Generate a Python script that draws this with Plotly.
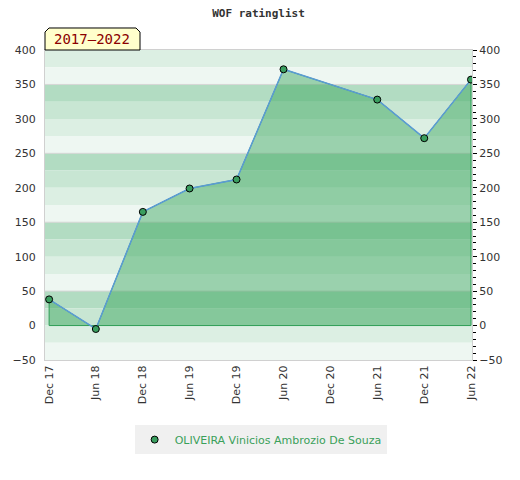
import plotly.graph_objects as go

# ---- data ----
dates = ["2017-12-01", "2018-06-01", "2018-12-01", "2019-06-01", "2019-12-01",
         "2020-06-01", "2021-06-01", "2021-12-01", "2022-06-01"]
ratings = [38, -5, 165, 199, 212, 372, 328, 272, 357]
tick_dates = ["2017-12-01", "2018-06-01", "2018-12-01", "2019-06-01", "2019-12-01",
              "2020-06-01", "2020-12-01", "2021-06-01", "2021-12-01", "2022-06-01"]
tick_labels = ["Dec 17", "Jun 18", "Dec 18", "Jun 19", "Dec 19",
               "Jun 20", "Dec 20", "Jun 21", "Dec 21", "Jun 22"]
player = "OLIVEIRA Vinicios Ambrozio De Souza"
period = "2017–2022"
title = "WOF ratinglist"
y_min, y_max = -50, 400

fig = go.Figure()

# fill polygon: data points closed down to zero
poly_x = dates + [dates[-1], dates[0], dates[0]]
poly_y = ratings + [0, 0, ratings[0]]
fig.add_trace(go.Scatter(x=poly_x, y=poly_y, mode="lines", fill="toself",
                         fillcolor="rgba(43,160,82,0.43)",
                         line=dict(color="#2f9e55", width=1),
                         hoverinfo="skip", showlegend=False))
fig.add_trace(go.Scatter(x=dates, y=ratings, mode="lines",
                         line=dict(color="#5b9bd5", width=1.5),
                         hoverinfo="skip", showlegend=False))
fig.add_trace(go.Scatter(x=dates, y=ratings, mode="markers", name=player,
                         marker=dict(size=7, color="#3a9e5f",
                                     line=dict(color="#000000", width=1))))
# invisible trace for right axis
fig.add_trace(go.Scatter(x=[dates[0]], y=[0], yaxis="y2", mode="markers",
                         marker=dict(opacity=0), hoverinfo="skip", showlegend=False))

# background stripes (25-unit bands, 100-unit cycles)
band_colors = ["#b2dcc2", "#c8e6d3", "#dcefe3", "#eef7f2"]
shapes = []
v = 400
while v > y_min:
    lo = v - 25
    idx = int(((350 - lo) // 25 - 1) % 4)
    shapes.append(dict(type="rect", xref="paper", yref="y", x0=0, x1=1, y0=lo, y1=v,
                       fillcolor=band_colors[idx], line=dict(width=0), layer="below"))
    v = lo
for b in [350, 250, 150, 50]:
    shapes.append(dict(type="line", xref="paper", yref="y", x0=0, x1=1, y0=b, y1=b,
                       line=dict(color="#d6d6d6", width=1), layer="below"))
# period label box with cut corners
x0, x1 = 0.0, 0.2225
yb, yt = 1.0, 1.071
cx, cy = 0.0094, 0.013
shapes.append(dict(type="path", xref="paper", yref="paper",
                   path=f"M {x0},{yb} L {x0},{yt-cy} L {x0+cx},{yt} L {x1-cx},{yt} "
                        f"L {x1},{yt-cy} L {x1},{yb} Z",
                   fillcolor="#ffffcc", line=dict(color="#000000", width=1), layer="above"))

fig.update_layout(
    width=512, height=472,
    margin=dict(l=37, r=48, t=42, b=120, autoexpand=False),
    paper_bgcolor="white", plot_bgcolor="white",
    title=dict(text=title, x=0.5, xref="paper", xanchor="center", y=0.989, yanchor="middle",
               font=dict(family="DejaVu Sans Mono", size=11, color="#333333", weight="bold")),
    font=dict(family="DejaVu Sans", size=11, color="#333333"),
    xaxis=dict(type="date", range=["2017-11-15", "2022-06-05"], automargin=False,
               tickmode="array", tickvals=tick_dates, ticktext=tick_labels,
               tickangle=-90, showgrid=False, zeroline=False,
               showline=True, linecolor="#d0d0d0", mirror=True, ticks="",
               tickfont=dict(size=11, color="#333333")),
    yaxis=dict(range=[y_min, y_max], dtick=50, showgrid=False, zeroline=False,
               automargin=False,
               showline=True, linecolor="#d0d0d0", mirror=True, ticks="",
               ticklabelstandoff=6, tickfont=dict(size=11, color="#333333")),
    yaxis2=dict(range=[y_min, y_max], dtick=50, overlaying="y", side="right",
                automargin=False,
                showgrid=False, zeroline=False, showline=False,
                ticks="outside", ticklen=4, tickcolor="#000000", tickwidth=1,
                minor=dict(dtick=10, ticks="outside", ticklen=3, tickcolor="#000000"),
                tickfont=dict(size=11, color="#333333")),
    shapes=shapes,
    annotations=[dict(text=period, xref="paper", yref="paper", x=0.111, y=1.034,
                      xanchor="center", yanchor="middle", showarrow=False,
                      font=dict(family="DejaVu Sans Mono", size=14, color="#8b0000"))],
    legend=dict(orientation="h", x=0.505, xanchor="center", y=-0.21, yanchor="top",
                bgcolor="#f0f0f0", font=dict(size=11, color="#3aa05a"),
                itemsizing="trace", itemwidth=30, tracegroupgap=0),
)

fig.write_html("out.html")
